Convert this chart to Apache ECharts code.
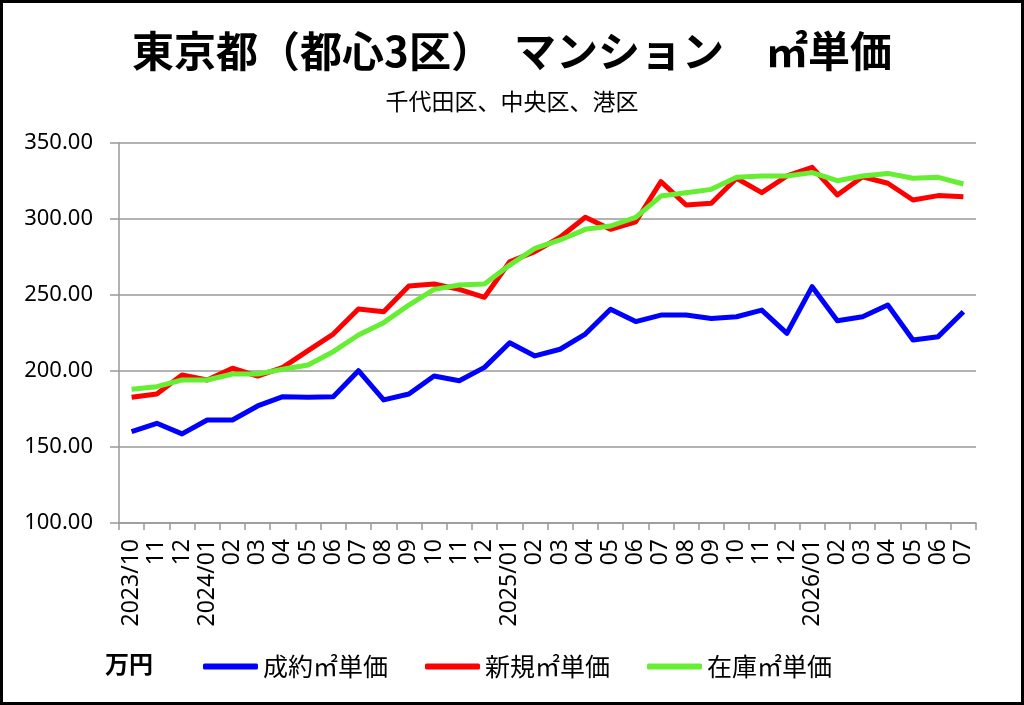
<!DOCTYPE html>
<html>
<head>
<meta charset="utf-8">
<script src="https://cdn.jsdelivr.net/npm/echarts@6/dist/echarts.min.js"></script>
<style>
  html, body { margin: 0; padding: 0; background: #fff; }
  #main { width: 1024px; height: 705px; }
</style>
</head>
<body>
<div id="main"></div>
<script>
// 横軸（月）
var months = ['2023/10', '11', '12', '2024/01', '02', '03', '04', '05', '06', '07', '08', '09', '10', '11', '12',
    '2025/01', '02', '03', '04', '05', '06', '07', '08', '09', '10', '11', '12',
    '2026/01', '02', '03', '04', '05', '06', '07'];
// 成約㎡単価
var seiyaku = [160.1, 165.6, 158.6, 167.8, 167.8, 177.0, 183.1, 182.8, 183.0, 200.2, 181.0, 184.9, 196.7, 193.6, 202.4,
    218.6, 209.9, 214.3, 224.3, 240.6, 232.5, 236.8, 236.8, 234.6, 235.7, 240.1, 224.8,
    255.5, 233.1, 235.7, 243.4, 220.4, 222.6, 239.0];
// 新規㎡単価
var shinki = [182.7, 184.9, 197.4, 194.1, 201.8, 196.7, 202.4, 213.4, 224.3, 240.8, 239.0, 255.9, 257.2, 253.7, 248.5,
    271.9, 278.5, 288.0, 301.1, 293.2, 298.2, 324.6, 309.2, 310.3, 326.8, 317.3, 328.3,
    334.0, 315.8, 327.8, 323.5, 312.5, 315.4, 314.7];
// 在庫㎡単価
var zaiko = [188.0, 189.7, 194.1, 194.1, 198.0, 198.0, 201.1, 204.0, 212.7, 223.7, 231.8, 243.4, 253.7, 256.6, 257.2,
    269.7, 280.7, 286.2, 293.2, 295.4, 301.1, 315.1, 317.3, 319.5, 327.4, 328.3, 328.3,
    330.5, 325.2, 328.3, 330.0, 326.8, 327.4, 323.0];

var seriesNames = ['成約㎡単価', '新規㎡単価', '在庫㎡単価'];
var seriesColors = ['#0000ff', '#ff0000', '#66ee33'];

var myChart = echarts.init(document.getElementById('main'));
var cjk = '"Noto Sans CJK JP", sans-serif';

myChart.setOption({
    backgroundColor: '#fff',
    animation: false,
    title: [{
        text: '東京都（都心3区）　マンション　㎡単価',
        left: 'center',
        top: 25,
        textStyle: { fontFamily: cjk, fontSize: 42, fontWeight: 'bold', color: '#000' }
    }, {
        text: '千代田区、中央区、港区',
        left: 'center',
        top: 85,
        textStyle: { fontFamily: cjk, fontSize: 23, fontWeight: 'normal', color: '#000' }
    }],
    graphic: [{
        type: 'rect',
        shape: { x: 1.5, y: 1.5, width: 1021, height: 702 },
        style: { fill: 'none', stroke: '#000', lineWidth: 3 }
    }, {
        type: 'text',
        left: 105,
        top: 652,
        style: { text: '万円', font: 'bold 24px "Noto Sans CJK JP"', fill: '#000' }
    }],
    legend: {
        data: seriesNames,
        left: 198,
        top: 649,
        itemWidth: 55,
        itemHeight: 6,
        itemGap: 37,
        icon: 'roundRect',
        textStyle: { fontFamily: cjk, fontSize: 25, color: '#000' }
    },
    grid: { left: 119, right: 48, top: 143, bottom: 182 },
    xAxis: {
        type: 'category',
        data: months,
        boundaryGap: true,
        axisLine: { lineStyle: { color: '#999', width: 1.5 } },
        axisTick: { show: true, interval: 0, length: 7, lineStyle: { color: '#999', width: 1.5 } },
        axisLabel: {
            interval: 0, rotate: 90, margin: 16,
            fontFamily: '"Noto Sans", sans-serif', fontSize: 23, color: '#000'
        }
    },
    yAxis: {
        type: 'value',
        min: 100, max: 350, interval: 50,
        axisLine: { show: true, lineStyle: { color: '#999', width: 1.5 } },
        axisTick: { show: true, length: 9, lineStyle: { color: '#999', width: 1.5 } },
        splitLine: { lineStyle: { color: '#999', width: 1.5 } },
        axisLabel: {
            margin: 26,
            fontFamily: '"Noto Sans", sans-serif', fontSize: 22, color: '#000',
            formatter: function (v) { return v.toFixed(2); }
        }
    },
    series: [seiyaku, shinki, zaiko].map(function (d, i) {
        return {
            name: seriesNames[i],
            type: 'line',
            data: d,
            showSymbol: false,
            symbol: 'none',
            color: seriesColors[i],
            lineStyle: { width: 5, color: seriesColors[i], join: 'round' }
        };
    })
});
</script>
</body>
</html>
